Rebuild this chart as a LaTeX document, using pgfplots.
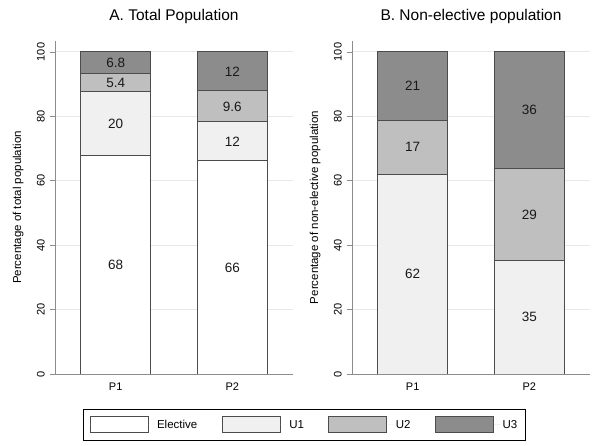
\documentclass[border=0pt]{standalone}
\usepackage{pgfplots}
\pgfplotsset{compat=1.18}
\usepackage{fontspec}
\setmainfont{Liberation Sans}
\definecolor{cU1}{gray}{0.94}
\definecolor{cU2}{gray}{0.75}
\definecolor{cU3}{gray}{0.55}
\definecolor{cEdge}{gray}{0.30}
\begin{document}
\begin{tikzpicture}
\useasboundingbox (0pt,0pt) rectangle (600pt,446pt);
\pgfplotsset{
  panel/.style={
    width=238pt, height=333pt, scale only axis,
    anchor=south west,
    xmin=-0.52, xmax=1.52, ymin=0, ymax=103.4,
    axis lines*=left,
    axis line style={draw=black!45, line width=0.8pt},
    xtick={0,1}, xticklabels={P1,P2},
    ytick={0,20,...,100},
    tick align=outside, major tick length=5pt,
    xtick style={draw=none},
    ytick style={draw=black!45, line width=0.8pt},
    ymajorgrids, grid style={draw=black!9, line width=0.9pt},
    /pgf/number format/assume math mode=true,
    ticklabel style={font=\fontsize{11}{12}\selectfont},
    yticklabel style={rotate=90, anchor=south, inner sep=0pt},
    yticklabel shift=5pt,
    xticklabel style={anchor=north, inner sep=0pt},
    xticklabel shift=4pt,
    title style={font=\fontsize{15.5}{17}\selectfont, at={(0.5,1)}, anchor=base, yshift=14pt},
    every axis y label/.style={at={(axis description cs:-0.155,0.5)}, rotate=90, anchor=center, font=\fontsize{11.5}{13}\selectfont},
    ybar stacked, bar width=0.6,
    every axis plot/.append style={draw=cEdge, line width=0.9pt},
    legend image code/.code={\draw[#1, line width=0.9pt] (0pt,-8pt) rectangle (58pt,8pt);
      \path[draw=none] (0pt,0pt) -- (65pt,0pt);},
  },
  hid/.style={width=238pt, height=333pt, scale only axis, anchor=south west,
    xmin=-0.52, xmax=1.52, ymin=0, ymax=103.4, hide axis, clip=false},
  lab/.style={draw=none, mark=none, nodes near coords, point meta=explicit symbolic,
    every node near coord/.style={anchor=center, font=\fontsize{13.5}{15}\selectfont, text=black!90}},
}
% ---------- Panel A ----------
\begin{axis}[panel, at={(55pt,72pt)},
  title={A. Total Population},
  ylabel={Percentage of total population},
  legend style={at={(axis description cs:1.048,-0.153)}, anchor=center,
    legend columns=4, draw=black, line width=0.8pt,
    font=\fontsize{11.5}{14}\selectfont,
    inner xsep=6.5pt, inner ysep=7.5pt,
    /tikz/every even column/.append style={column sep=22.5pt}},
  legend cell align=left]
\addplot[fill=white] coordinates {(0,67.8) (1,66.2)};
\addplot[fill=cU1] coordinates {(0,20.0) (1,12.1)};
\addplot[fill=cU2] coordinates {(0,5.4) (1,9.6)};
\addplot[fill=cU3] coordinates {(0,6.8) (1,12.1)};
\legend{Elective,U1,U2,U3}
\end{axis}
\begin{axis}[hid, at={(55pt,72pt)}]
\addplot[lab] coordinates {(0,33.9)[68] (0,77.8)[20] (0,90.5)[5.4] (0,96.6)[6.8]
  (1,33.1)[66] (1,72.25)[12] (1,83.1)[9.6] (1,93.95)[12]};
\end{axis}
% ---------- Panel B ----------
\begin{axis}[panel, at={(352pt,72pt)},
  title={B. Non-elective population},
  ylabel={Percentage of non-elective population}]
\addplot[fill=cU1] coordinates {(0,62.0) (1,35.2)};
\addplot[fill=cU2] coordinates {(0,16.8) (1,28.7)};
\addplot[fill=cU3] coordinates {(0,21.2) (1,36.1)};
\end{axis}
\begin{axis}[hid, at={(352pt,72pt)}]
\addplot[lab] coordinates {(0,31.0)[62] (0,70.4)[17] (0,89.4)[21]
  (1,17.6)[35] (1,49.55)[29] (1,81.95)[36]};
\end{axis}
\end{tikzpicture}
\end{document}
